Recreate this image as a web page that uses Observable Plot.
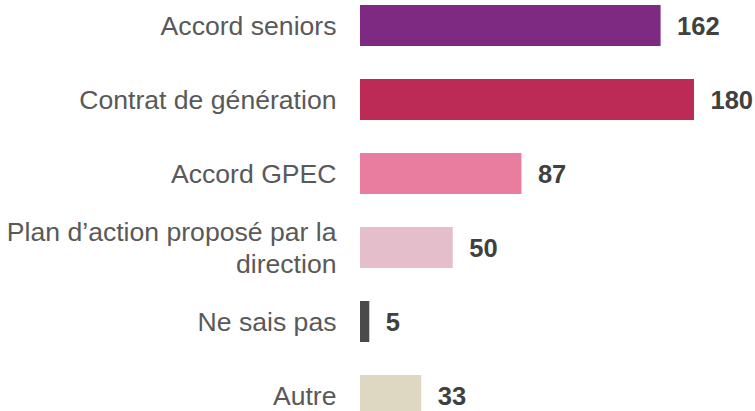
<!DOCTYPE html>
<html>
<head>
<meta charset="utf-8">
<script src="https://cdn.jsdelivr.net/npm/d3@7"></script>
<script src="https://cdn.jsdelivr.net/npm/@observablehq/plot@0.6"></script>
<style>
  html, body { margin: 0; padding: 0; background: #fff; }
  #chart svg { display: block; }
</style>
</head>
<body>
<div id="chart"></div>
<script>
const categories = [
  "Accord seniors",
  "Contrat de génération",
  "Accord GPEC",
  "Plan d’action proposé par la\ndirection",
  "Ne sais pas",
  "Autre"
];
const values = [162, 180, 87, 50, 5, 33];
const colors = ["#7E2A82", "#BB2B56", "#E87DA0", "#E4BFCB", "#4A4A4A", "#DED8C2"];

const data = categories.map((c, i) => ({ category: c, value: values[i] }));

const chart = Plot.plot({
  width: 755,
  height: 411,
  marginLeft: 360,
  marginRight: 61,
  marginTop: 0,
  marginBottom: 0,
  style: { fontFamily: "'Liberation Sans', Arial, sans-serif", background: "#fff" },
  x: { domain: [0, 180], axis: null },
  y: { domain: categories, range: [5, 416], paddingInner: 0.446, paddingOuter: 0, axis: null },
  color: { domain: categories, range: colors },
  marks: [
    Plot.barX(data, { x: "value", y: "category", fill: "category" }),
    Plot.text(data, {
      x: 0, y: "category", text: "category",
      textAnchor: "end", dx: -24, dy: -1, lineAnchor: "middle", lineHeight: 1.17,
      fontSize: 26.6, fill: "#595959"
    }),
    Plot.text(data, {
      x: "value", y: "category", text: d => String(d.value),
      textAnchor: "start", dx: 16, dy: 1,
      fontSize: 25.5, fontWeight: "bold", fill: "#404040"
    })
  ]
});
document.getElementById("chart").appendChild(chart);
</script>
</body>
</html>
